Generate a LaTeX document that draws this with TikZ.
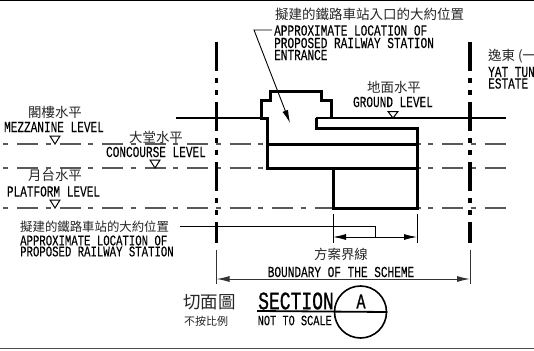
\documentclass[tikz,border=0pt]{standalone}
\usepackage{fontspec}
\setmainfont{Liberation Sans}
\newfontfamily\lat[FakeStretch=0.72,FakeBold=0.12]{Liberation Mono}
\newfontfamily\latb[FakeStretch=0.72,FakeBold=0.9]{Liberation Mono}
\newfontfamily\cjk{Noto Sans CJK TC}
\usetikzlibrary{arrows.meta}
\tikzset{
 lab/.style={inner sep=0pt,text=black,font=\lat\fontsize{15.4}{14}\selectfont},
 labs/.style={inner sep=0pt,text=black,font=\lat\fontsize{14.8}{14}\selectfont},
 cj/.style={inner sep=0pt,text=black!85,font=\cjk\fontsize{13.4}{14}\selectfont},
 thinl/.style={line width=0.9pt,black},
 thick3/.style={line width=3pt,black,line join=miter},
 cline/.style={line width=3.2pt,black,dash pattern=on 29pt off 7pt on 5pt off 7pt on 5pt off 7pt},
 lvl/.style={line width=1.1pt,black!65,dash pattern=on 5pt off 9pt on 21pt off 7.5pt},
 tri/.style={draw=black,line width=1pt,fill=white,line join=miter}
}
\begin{document}
\begin{tikzpicture}[x=1pt,y=-1pt]
\useasboundingbox (0,0) rectangle (534,350);
\fill[white] (0,0) rectangle (534,350);
% frame rules
\draw[line width=2pt,black] (0,0.5) -- (534,0.5);
\draw[line width=1.5pt,black!70] (0,348.5) -- (534,348.5);
% level lines
\foreach \y in {144,168,208} \draw[lvl] (3,\y) -- (506,\y);
% building mask
\fill[white] (267,118) -- (316,118) -- (316,128) -- (417,128) -- (417,208) -- (333,208) -- (333,168) -- (267,168) -- cycle;
% centre lines
\coordinate (cl1) at (216.5,42); \coordinate (cl1e) at (216.5,243);
\coordinate (cl2) at (470,42); \coordinate (cl2e) at (470,243);
\draw[cline] (cl1) -- (cl1e);
\draw[cline] (cl2) -- (cl2e);
% ground
\draw[line width=1.6pt,black] (176,118) -- (267,118);
\draw[line width=1.6pt,black] (316,118) -- (506,118);
% building
\draw[thick3] (267,168) -- (267,118) -- (261,118) -- (261,100) -- (270,100) -- (270,91.5) -- (321,91.5) -- (321,100) -- (331,100) -- (331,118);
\draw[thick3] (316.5,118) -- (316.5,128) -- (417,128) -- (417,208) -- (333,208) -- (333,168);
\draw[thick3] (265.5,168) -- (417,168);
\draw[thick3] (267,144) -- (417,144);
% level triangles
\draw[tri] (50,136) -- (60,136) -- (55,144) -- cycle;
\draw[tri] (150,160) -- (160,160) -- (155,168) -- cycle;
\draw[tri] (50,200) -- (60,200) -- (55,208) -- cycle;
\draw[tri] (388,111.5) -- (398,111.5) -- (393,118) -- cycle;
% level labels
\node[cj] (t1) at (55,112) {閣樓水平};
\node[lab] (t2) at (54,127) {MEZZANINE LEVEL};
\node[cj] (t3) at (156,137) {大堂水平};
\node[lab] (t4) at (156,152) {CONCOURSE LEVEL};
\node[cj] (t5) at (55,175) {月台水平};
\node[lab] (t6) at (53.5,191.5) {PLATFORM LEVEL};
\node[cj] (t7) at (394,87) {地面水平};
\node[lab] (t8) at (393,102) {GROUND LEVEL};
% entrance label
\node[cj,anchor=west,font=\cjk\fontsize{13.5}{14}\selectfont] (t9) at (275,14) {擬建的鐵路車站入口的大約位置};
\node[lab,anchor=west] (t10) at (274,30.5) {APPROXIMATE LOCATION OF};
\node[lab,anchor=west] (t11) at (274,43) {PROPOSED RAILWAY STATION};
\node[lab,anchor=west] (t12) at (274,55) {ENTRANCE};
\coordinate (l1) at (272,30); \coordinate (l2) at (254,30); \coordinate (l3) at (290,123);
\draw[thinl,-{Latex[length=13pt,width=6pt]}] (l1) -- (l2) -- (l3);
% estate label (runs off the page)
\node[cj,anchor=west] (t13) at (488,56.5) {逸東 (一};
\node[lab,anchor=west] (t14) at (488,72) {YAT TUN};
\node[lab,anchor=west] (t15) at (488,83.5) {ESTATE};
% station label
\node[cj,anchor=west,font=\cjk\fontsize{12.4}{14}\selectfont] (t16) at (20,227) {擬建的鐵路車站的大約位置};
\node[labs,anchor=west] (t17) at (20,240.5) {APPROXIMATE LOCATION OF};
\node[labs,anchor=west] (t18) at (20,251.5) {PROPOSED RAILWAY STATION};
\coordinate (s1) at (180,226); \coordinate (s2) at (375,226); \coordinate (s3) at (375,237);
\draw[thinl] (s1) -- (s2) -- (s3);
% station dimension
\coordinate (d1) at (333,214); \coordinate (d1e) at (333,243);
\coordinate (d2) at (417,214); \coordinate (d2e) at (417,243);
\draw[thinl] (d1) -- (d1e);
\draw[thinl] (d2) -- (d2e);
\coordinate (d3) at (333,237); \coordinate (d4) at (417,237);
\draw[thinl,{Latex[length=13pt,width=6pt]}-{Latex[length=13pt,width=6pt]}] (d3) -- (d4);
% boundary dimension
\node[cj] (t19) at (341,254) {方案界線};
\node[lab] (t20) at (341,272) {BOUNDARY OF THE SCHEME};
\coordinate (b1) at (216.5,250); \coordinate (b1e) at (216.5,284);
\coordinate (b2) at (470,250); \coordinate (b2e) at (470,284);
\draw[line width=1pt,black!80] (b1) -- (b1e);
\draw[line width=1pt,black!80] (b2) -- (b2e);
\coordinate (b3) at (216.5,279); \coordinate (b4) at (470,279);
\draw[line width=1pt,black!80,{Latex[length=13pt,width=6pt]}-{Latex[length=13pt,width=6pt]}] (b3) -- (b4);
% section title
\node[cj,font=\cjk\fontsize{17.5}{18}\selectfont] (t21) at (209.5,302) {切面圖};
\node[cj,font=\cjk\fontsize{11}{12}\selectfont] (t22) at (206,321) {不按比例};
\node[inner sep=0pt,anchor=west,font=\latb\fontsize{25}{22}\selectfont] (t23) at (258,301) {SECTION};
\node[labs,anchor=west,font=\lat\fontsize{14.3}{14}\selectfont] (t24) at (257.5,320.5) {NOT TO SCALE};
\node[draw,circle,line width=1.6pt,minimum size=52pt,inner sep=0pt] (c) at (360.5,312) {};
\draw[line width=1.8pt,black] (257,311) -- (c.east);
\node[inner sep=0pt,font=\latb\fontsize{21}{19}\selectfont] (t25) at (361,301.5) {A};
\end{tikzpicture}
\end{document}
